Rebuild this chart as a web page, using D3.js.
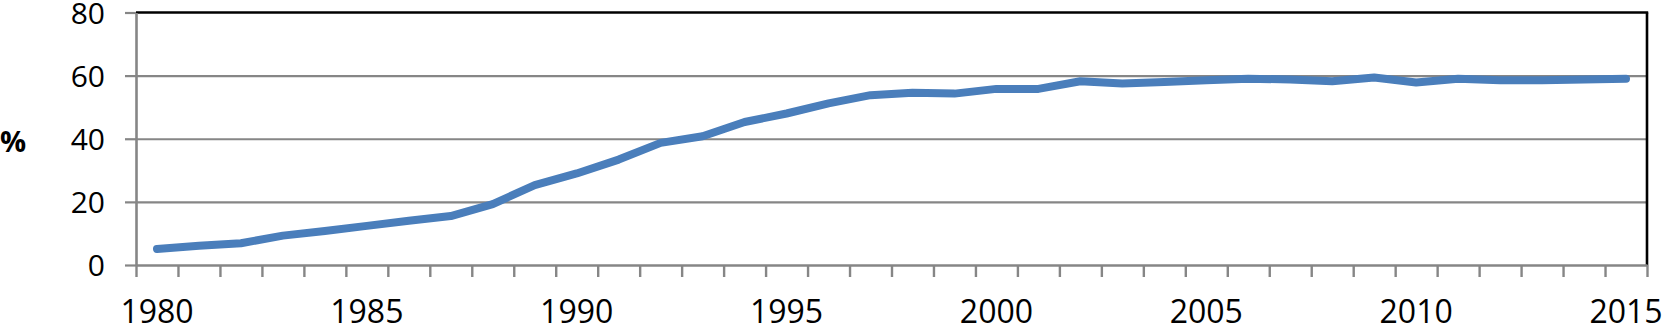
<!DOCTYPE html>
<html>
<head>
<meta charset="utf-8">
<script src="https://cdn.jsdelivr.net/npm/d3@7"></script>
<style>
  html, body { margin: 0; padding: 0; background: #fff; }
  svg { display: block; }
</style>
</head>
<body>
<svg id="chart" width="1664" height="325"></svg>
<script>
const years = d3.range(1980, 2016);
const values = [5.1, 6.1, 6.9, 9.3, 10.8, 12.4, 14.0, 15.5, 19.3, 25.3,
                29.0, 33.4, 38.7, 40.8, 45.3, 48.0, 51.2, 53.8, 54.6, 54.3,
                55.8, 55.8, 58.2, 57.5, 58.0, 58.5, 59.0, 58.8, 58.2, 59.4,
                57.8, 59.0, 58.5, 58.5, 58.8, 59.0];
const yTicks = [0, 20, 40, 60, 80];
const xLabelYears = [1980, 1985, 1990, 1995, 2000, 2005, 2010, 2015];
const yAxisTitle = "%";

const svg = d3.select("#chart");
const pLeft = 136, pRight = 1647, pTop = 12.5, pBottom = 265;
const grey = "#868686";

const x = d3.scaleBand().domain(years).range([pLeft, pRight]).padding(0);
const xEdge = d3.scaleLinear().domain([0, years.length]).range([pLeft, pRight]);
const y = d3.scaleLinear().domain([0, 80]).range([pBottom, pTop]);

// gridlines
const grid = svg.append("g").attr("transform", `translate(${pLeft},0)`)
  .call(d3.axisLeft(y).tickValues([20, 40, 60]).tickSize(-(pRight - pLeft)).tickFormat(""));
grid.select(".domain").remove();
grid.selectAll("line").attr("stroke", grey).attr("stroke-width", 2.2);

// top & right border (black)
svg.append("line").attr("x1", pLeft).attr("x2", pRight + 1.2).attr("y1", y(80)).attr("y2", y(80))
  .attr("stroke", "#000").attr("stroke-width", 2.4);
svg.append("line").attr("x1", pRight).attr("x2", pRight).attr("y1", y(80)).attr("y2", y(0))
  .attr("stroke", "#000").attr("stroke-width", 2.6);

// y axis
const yAxis = svg.append("g").attr("transform", `translate(${pLeft},0)`)
  .call(d3.axisLeft(y).tickValues(yTicks).tickSize(11).tickPadding(20).tickSizeOuter(0));
yAxis.select(".domain").attr("stroke", grey).attr("stroke-width", 2.6);
yAxis.selectAll(".tick line").attr("stroke", grey).attr("stroke-width", 2.2);
yAxis.selectAll("text").attr("font-family", "Open Sans").attr("font-size", 30).attr("fill", "#000")
  .attr("dy", "0.36em");

// x axis ticks at category edges
const xTickAxis = svg.append("g").attr("transform", `translate(0,${pBottom})`)
  .call(d3.axisBottom(xEdge).tickValues(d3.range(years.length + 1)).tickSize(12).tickFormat("").tickSizeOuter(0));
xTickAxis.select(".domain").attr("stroke", grey).attr("stroke-width", 2.4);
xTickAxis.selectAll(".tick line").attr("stroke", grey).attr("stroke-width", 2.4);

// x labels at category centers
const xLab = svg.append("g").attr("transform", `translate(0,${pBottom})`)
  .call(d3.axisBottom(x).tickValues(xLabelYears).tickSize(0).tickPadding(35));
xLab.select(".domain").remove();
xLab.selectAll("text").attr("font-family", "Open Sans").attr("font-size", 32).attr("fill", "#000");

// y axis title
svg.append("text").attr("x", 0).attr("y", 152).text(yAxisTitle)
  .attr("font-family", "Open Sans").attr("font-weight", "bold").attr("font-size", 29).attr("fill", "#000");

// data line
const line = d3.line().x((d, i) => x(years[i]) + x.bandwidth() / 2).y(d => y(d));
svg.append("path").datum(values).attr("d", line)
  .attr("fill", "none").attr("stroke", "#4a7ebb").attr("stroke-width", 8)
  .attr("stroke-linecap", "round").attr("stroke-linejoin", "round");
</script>
</body>
</html>
